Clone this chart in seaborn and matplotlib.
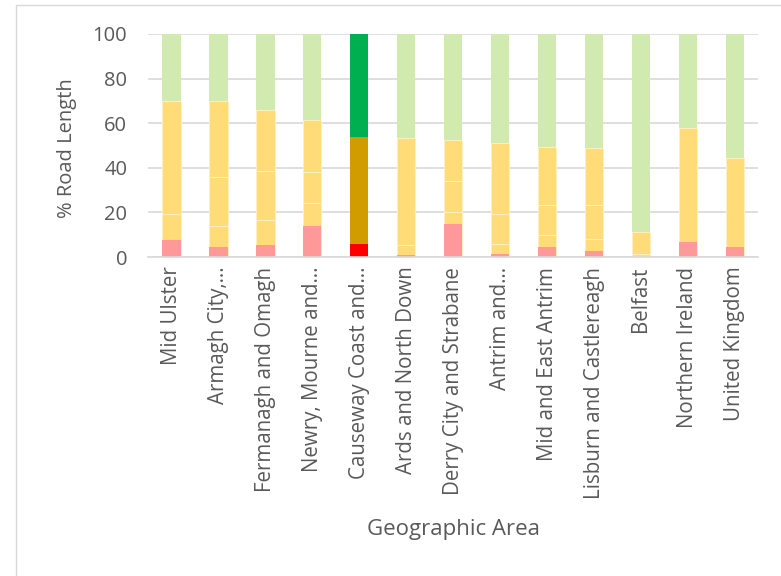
import numpy as np
import pandas as pd
import seaborn as sns
import matplotlib.pyplot as plt
from matplotlib.patches import Rectangle

sns.set_theme(style='white')
plt.rcParams['font.family'] = ['Open Sans', 'DejaVu Sans']

# Areas (labels as shown in the chart, truncated ones keep the ellipsis)
areas = ['Mid Ulster', 'Armagh City,…', 'Fermanagh and Omagh', 'Newry, Mourne and…',
         'Causeway Coast and…', 'Ards and North Down', 'Derry City and Strabane',
         'Antrim and…', 'Mid and East Antrim', 'Lisburn and Castlereagh', 'Belfast',
         'Northern Ireland', 'United Kingdom']

# % of road length in each condition band (red, three amber bands, green)
red = [7.7, 4.7, 5.4, 14.1, 6.0, 1.1, 15.0, 1.5, 4.5, 2.7, 0.1, 6.6, 4.5]
amber1 = [11.5, 9.3, 11.4, 9.9, 0.0, 4.2, 5.0, 4.5, 5.4, 5.4, 1.1, 51.2, 40.1]
amber2 = [50.8, 21.9, 21.8, 14.0, 0.0, 48.2, 14.1, 13.2, 13.5, 15.3, 9.8, 0.0, 0.0]
amber3 = [0.0, 33.9, 27.5, 23.6, 47.6, 0.0, 18.5, 31.9, 25.8, 25.5, 0.0, 0.0, 0.0]
green = [30.0, 30.2, 33.9, 38.4, 46.4, 46.5, 47.4, 48.9, 50.8, 51.1, 89.0, 42.2, 55.4]

highlight = 'Causeway Coast and…'

df = pd.DataFrame({'Area': areas, 'Red': red, 'Amber1': amber1,
                   'Amber2': amber2, 'Amber3': amber3, 'Green': green})

# empilhamento: cada camada é desenhada como o total acumulado,
# da maior para a menor, uma por cima da outra
camadas = ['Red', 'Amber1', 'Amber2', 'Amber3', 'Green']
acumulado = df[camadas].cumsum(axis=1)
acumulado['Area'] = df['Area']

cores = {
    'Red': ('#FF9999', '#FF0000'),
    'Amber1': ('#FFDC78', '#D09C00'),
    'Amber2': ('#FFDC78', '#D09C00'),
    'Amber3': ('#FFDC78', '#D09C00'),
    'Green': ('#D0EAB0', '#00B050'),
}

fig = plt.figure(figsize=(7.81, 5.76), dpi=100)
ax = fig.add_axes([0.1895, 0.5538, 0.7815, 0.3872])

# borda do gráfico (só aparece à esquerda e em cima)
fig.patches.append(Rectangle((16 / 781, -0.1), 1.0, 1 - 5 / 576 + 0.1,
                             transform=fig.transFigure, fill=False,
                             edgecolor='#D9D9D9', linewidth=1.0))

for col in reversed(camadas):
    claro, forte = cores[col]
    paleta = {a: (forte if a == highlight else claro) for a in areas}
    n_antes = len(ax.patches)
    sns.barplot(data=acumulado, x='Area', y=col, hue='Area', palette=paleta,
                width=0.39, legend=False, ax=ax, saturation=1, linewidth=0)
    # linhas finas entre as faixas amarelas
    if col.startswith('Amber'):
        for p in ax.patches[n_antes:]:
            if p.get_facecolor()[:3] != (208 / 255, 156 / 255, 0.0):
                p.set_edgecolor('#FFF0C4')
                p.set_linewidth(0.7)

ax.set_xlim(-0.5, len(areas) - 0.5)
ax.set_ylim(0, 100)
ax.set_yticks([0, 20, 40, 60, 80, 100])
ax.yaxis.grid(True, color='#D9D9D9', linewidth=1.2)
ax.set_axisbelow(True)
for s in ['left', 'right', 'top']:
    ax.spines[s].set_visible(False)
ax.spines['bottom'].set_color('#D9D9D9')
ax.spines['bottom'].set_linewidth(1.2)

ax.tick_params(axis='y', length=0, pad=15, labelsize=14.5, labelcolor='#595959')
ax.tick_params(axis='x', length=0, pad=7, labelsize=14.8, labelcolor='#595959')
plt.setp(ax.get_xticklabels(), rotation=90, ha='center', va='top')

ax.set_ylabel('% Road Length', fontsize=14.5, color='#595959', va='center')
ax.yaxis.set_label_coords(-0.133, 0.49)
ax.set_xlabel('Geographic Area', fontsize=16, color='#595959', va='center')
ax.xaxis.set_label_coords(0.5, -1.224)

fig.savefig('out.png', dpi=100)
